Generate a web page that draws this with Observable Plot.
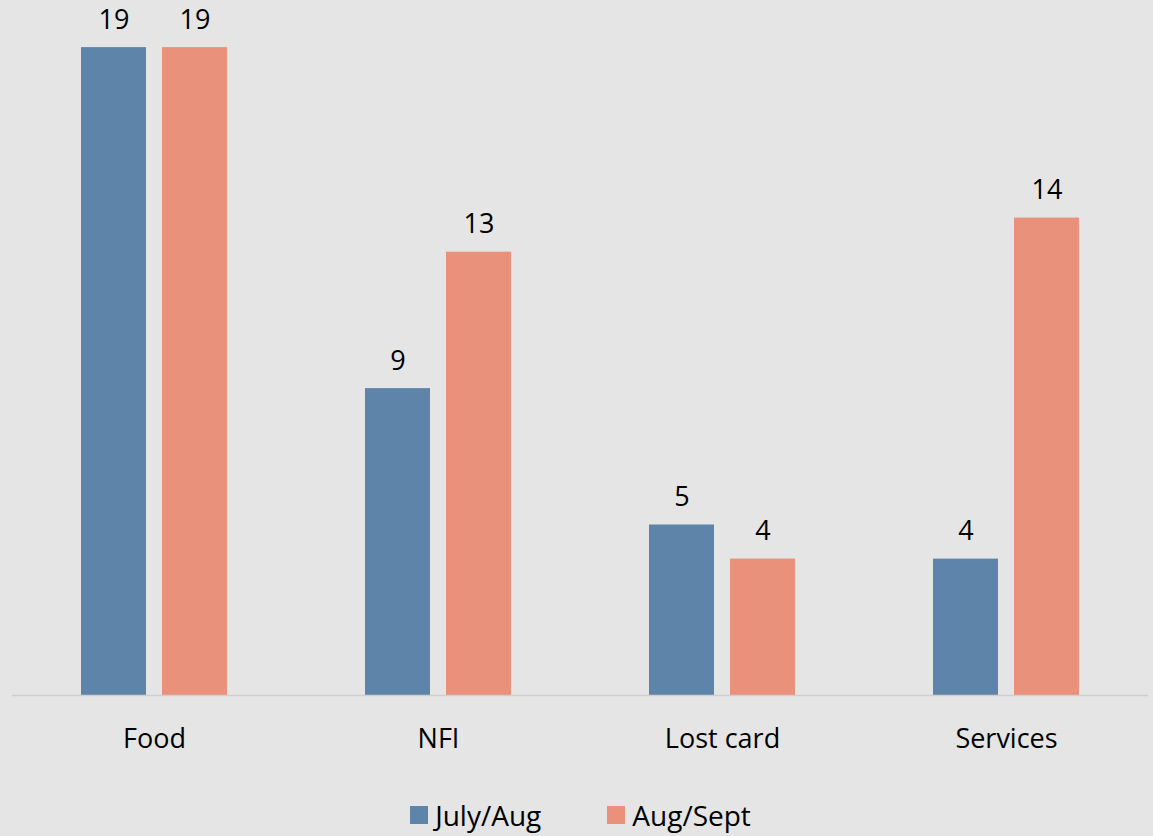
<!DOCTYPE html>
<html>
<head>
<meta charset="utf-8">
<script src="https://cdn.jsdelivr.net/npm/d3@7"></script>
<script src="https://cdn.jsdelivr.net/npm/@observablehq/plot@0.6"></script>
<style>
  html, body { margin: 0; padding: 0; background: #e5e5e5; width: 1153px; height: 836px; overflow: hidden; }
  #chart svg { display: block; background: #e5e5e5; }
  #legend { display: flex; justify-content: center; align-items: center; height: 30px; margin-top: 25px; font-family: "Open Sans", sans-serif; font-size: 28px; color: #000; padding-left: 8px; }
  .item { display: flex; align-items: center; }
  .sw { width: 18px; height: 18px; margin-right: 7px; }
  .item + .item { margin-left: 66px; }
</style>
</head>
<body>
<div id="chart"></div>
<div id="legend"></div>
<script>
const categories = ["Food", "NFI", "Lost card", "Services"];
const seriesNames = ["July/Aug", "Aug/Sept"];
const julyAug = [19, 9, 5, 4];
const augSept = [19, 13, 4, 14];
const colors = ["#5e84aa", "#e9917a"];

const data = [];
categories.forEach((c, i) => {
  data.push({category: c, series: seriesNames[0], value: julyAug[i]});
  data.push({category: c, series: seriesNames[1], value: augSept[i]});
});

const chart = Plot.plot({
  width: 1153,
  height: 775,
  marginLeft: 10,
  marginRight: 4,
  marginTop: 13,
  marginBottom: 80,
  style: {background: "#e5e5e5", fontFamily: "'Open Sans', sans-serif", color: "#000"},
  fx: {domain: categories, padding: 0, label: null},
  x: {domain: seriesNames, paddingInner: 0.195, paddingOuter: 0.832, axis: null},
  y: {domain: [0, 20], axis: null},
  color: {domain: seriesNames, range: colors},
  marks: [
    Plot.barY(data, {fx: "category", x: "series", y: "value", fill: "series"}),
    Plot.ruleY([0], {stroke: "#cfcfcf", strokeWidth: 1.5}),
    Plot.text(data, {fx: "category", x: "series", y: "value", text: d => String(d.value), dy: -19, lineAnchor: "bottom", fontSize: 27, fill: "#000"}),
    Plot.axisFx({anchor: "bottom", tickSize: 0, tickPadding: 33, fontSize: 27, label: null, color: "#000"})
  ]
});
document.getElementById("chart").appendChild(chart);

const legend = document.getElementById("legend");
seriesNames.forEach((s, i) => {
  const item = document.createElement("div");
  item.className = "item";
  const sw = document.createElement("div");
  sw.className = "sw";
  sw.style.background = colors[i];
  const t = document.createElement("span");
  t.textContent = s;
  item.appendChild(sw);
  item.appendChild(t);
  legend.appendChild(item);
});
</script>
</body>
</html>
